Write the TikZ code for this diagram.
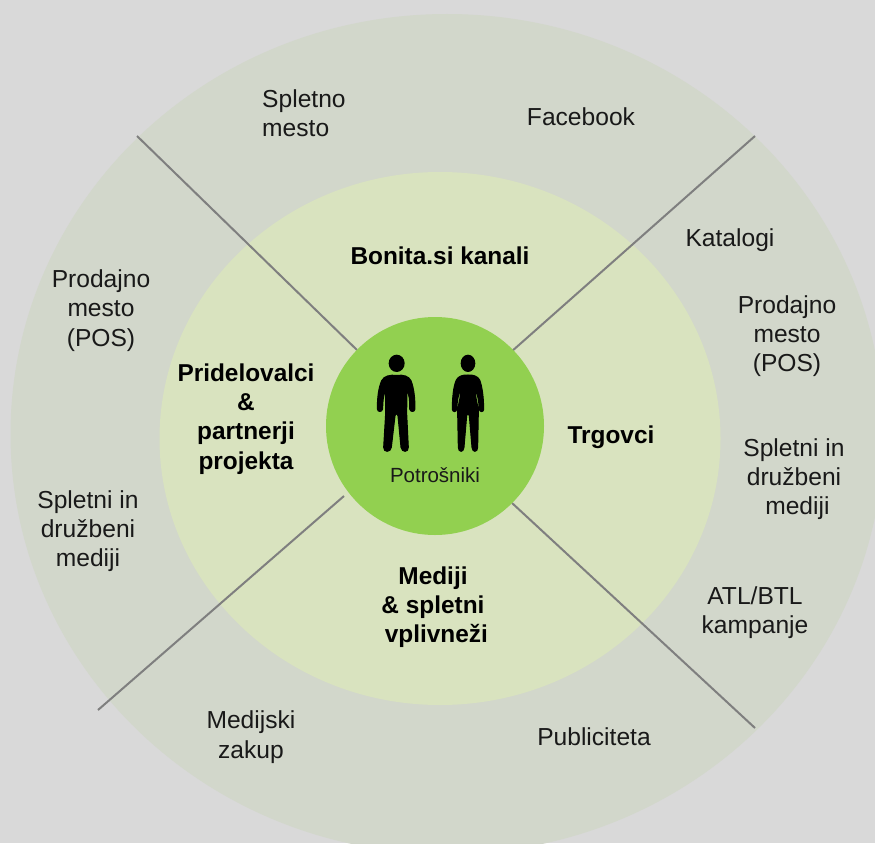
\documentclass[tikz,border=0pt]{standalone}
\usepackage{fontspec}
\setmainfont{Liberation Sans}
\definecolor{bgc}{HTML}{D9D9D9}
\definecolor{outerc}{HTML}{D2D7CB}
\definecolor{midc}{HTML}{D9E3BF}
\definecolor{innerc}{HTML}{92D050}
\definecolor{linec}{HTML}{7F7F7F}
\tikzset{
  x=1pt,y=-1pt,
  lbl/.style={font=\fontsize{24.6}{29.3}\selectfont,align=center,inner sep=0pt,text=black!90},
  lblb/.style={font=\fontsize{24.4}{29.3}\selectfont\bfseries,align=center,inner sep=0pt,text=black},
  divider/.style={draw=linec,line width=2pt},
  person/.style={fill=black,draw=black,line width=1pt,line join=round},
}
\begin{document}
\begin{tikzpicture}
\useasboundingbox (0,0) rectangle (875,843);
\clip (0,0) rectangle (875,843);
\fill[bgc] (0,0) rectangle (875,843);
\fill[outerc] (447,434) ellipse [x radius=436.5,y radius=420];
\coordinate (a1) at (137,136); \coordinate (a2) at (357,350);
\coordinate (b1) at (755,136); \coordinate (b2) at (511,352);
\coordinate (c1) at (98,710);  \coordinate (c2) at (344,496);
\coordinate (d1) at (755,728); \coordinate (d2) at (512,503);
\fill[midc] (440,438.5) ellipse [x radius=280.5,y radius=266.5];
\draw[divider] (a1) -- (a2);
\draw[divider] (b1) -- (b2);
\draw[divider] (c1) -- (c2);
\draw[divider] (d1) -- (d2);
\fill[innerc] (435,426) circle [radius=109];
% man
\begin{scope}[shift={(340,330)},x=0.3333pt,y=-0.3333pt]
\fill[black] (170,100) ellipse [x radius=24,y radius=26];
\path[person] (170,136) .. controls (150,134) and (132,138) .. (125,152)
  .. controls (115,175) and (112,205) .. (112,237)
  .. controls (113,247) and (126,247) .. (128,237)
  .. controls (128,215) and (130,195) .. (137,180)
  -- (137,250) -- (131,352)
  .. controls (130,368) and (152,368) .. (154,352)
  -- (165,258) .. controls (166,250) and (172,250) .. (174,258)
  -- (183,352)
  .. controls (185,368) and (206,368) .. (205,352)
  -- (200,250) -- (201,180)
  .. controls (208,195) and (210,215) .. (209,237)
  .. controls (211,247) and (224,247) .. (225,237)
  .. controls (225,205) and (222,175) .. (213,152)
  .. controls (206,138) and (190,134) .. (170,136) -- cycle;
% woman
\fill[black] (384,100) ellipse [x radius=22,y radius=26];
\path[person] (384,135) .. controls (370,134) and (355,138) .. (349,150)
  .. controls (340,170) and (337,205) .. (337,238)
  .. controls (338,247) and (349,247) .. (350,238)
  .. controls (351,215) and (355,195) .. (361,178)
  .. controls (364,205) and (352,225) .. (353,250)
  -- (355,352)
  .. controls (355,368) and (371,368) .. (372,352)
  -- (380,258) .. controls (382,250) and (386,250) .. (388,258)
  -- (396,352)
  .. controls (397,368) and (413,368) .. (413,352)
  -- (415,250)
  .. controls (416,225) and (404,205) .. (407,178)
  .. controls (413,195) and (417,215) .. (418,238)
  .. controls (419,247) and (431,247) .. (431,238)
  .. controls (431,205) and (427,170) .. (419,150)
  .. controls (413,138) and (398,134) .. (384,135) -- cycle;
\end{scope}
\node[inner sep=0pt,font=\fontsize{20.5}{24}\selectfont,text=black!90] (potr) at (435,475.5) {Potrošniki};
% outer labels
\node[lbl,align=left,anchor=west] (n1) at (262,113) {Spletno\\mesto};
\node[lbl] (n2) at (581,117) {Facebook};
\node[lbl] (n3) at (730,240.5) {Katalogi};
\node[lbl] (n4) at (787,336) {Prodajno\\mesto\\(POS)};
\node[lbl] (n5) at (794,479) {Spletni in\\družbeni\\\ mediji};
\node[lbl] (n6) at (755,612.5) {ATL/BTL\\kampanje};
\node[lbl] (n7) at (594,736.5) {Publiciteta};
\node[lbl] (n8) at (251,737) {Medijski\\zakup};
\node[lbl] (n9) at (88,531) {Spletni in\\družbeni\\mediji};
\node[lbl] (n10) at (101,310.5) {Prodajno\\mesto\\(POS)};
% middle labels
\node[lblb] (m1) at (440,256) {Bonita.si kanali};
\node[lblb] (m2) at (611,437) {Trgovci};
\node[lblb] (m3) at (433,607) {Mediji\\\& spletni\\\ vplivneži};
\node[lblb] (m4) at (246,419) {Pridelovalci\\\&\\partnerji\\projekta};
\end{tikzpicture}
\end{document}
